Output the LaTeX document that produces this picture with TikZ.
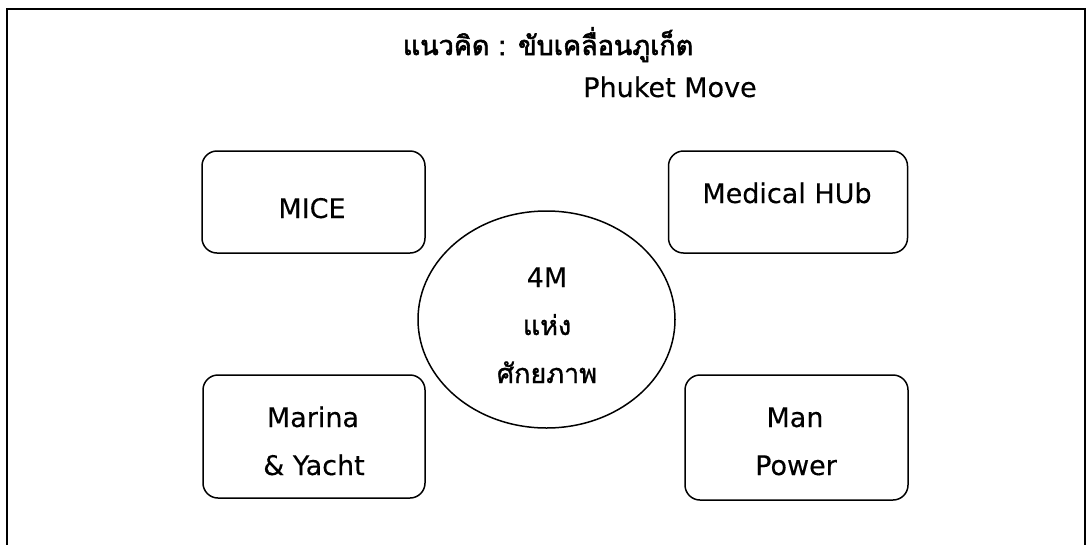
\documentclass[tikz,border=0pt]{standalone}
\usepackage{fontspec}
\setmainfont[FakeBold=0.3]{DejaVu Sans}
\newfontfamily\thaifont[Script=Thai,FakeBold=1.2]{Loma}
\newfontfamily\thaititle[Script=Thai,FakeBold=2.2]{Loma}
\usetikzlibrary{shapes.geometric}
\begin{document}
\begin{tikzpicture}[x=1pt,y=-1pt,
  box/.style={draw,line width=1.5pt,rounded corners=15pt,inner sep=0pt},
  txt/.style={font=\fontsize{27}{32}\selectfont,anchor=base,inner sep=0pt}]
\useasboundingbox (0,0) rectangle (1090,544);
\clip (0,0) rectangle (1090,544);
\draw[line width=2.5pt] (7,9) rectangle (1085,570);
% boxes
\node[box,minimum width=223pt,minimum height=102pt] (mice) at (313.5,202) {};
\node[box,minimum width=239pt,minimum height=102pt] (med) at (788,202) {};
\node[box,minimum width=222pt,minimum height=123pt] (mar) at (314,436.5) {};
\node[box,minimum width=223pt,minimum height=125pt] (man) at (796.5,437.5) {};
\node[draw,ellipse,line width=1.5pt,minimum width=257pt,minimum height=217pt,inner sep=0pt] (core) at (546.5,319.5) {};
% texts
\node[txt] (title) at (548,55) {\thaititle แนวคิด : ขับเคลื่อนภูเก็ต};
\node[txt] (sub) at (670,97) {Phuket Move};
\node[txt] (tmice) at (312,218) {MICE};
\node[txt] (tmed) at (787,203) {Medical HUb};
\node[txt] (tmar1) at (313,427) {Marina};
\node[txt] (tmar2) at (314,475) {\& Yacht};
\node[txt] (tman1) at (795,427) {Man};
\node[txt] (tman2) at (796,475) {Power};
\node[txt] (c1) at (547,287) {4M};
\node[txt] (c2) at (547,335) {\thaifont แห่ง};
\node[txt] (c3) at (547,383) {\thaifont ศักยภาพ};
\end{tikzpicture}
\end{document}
